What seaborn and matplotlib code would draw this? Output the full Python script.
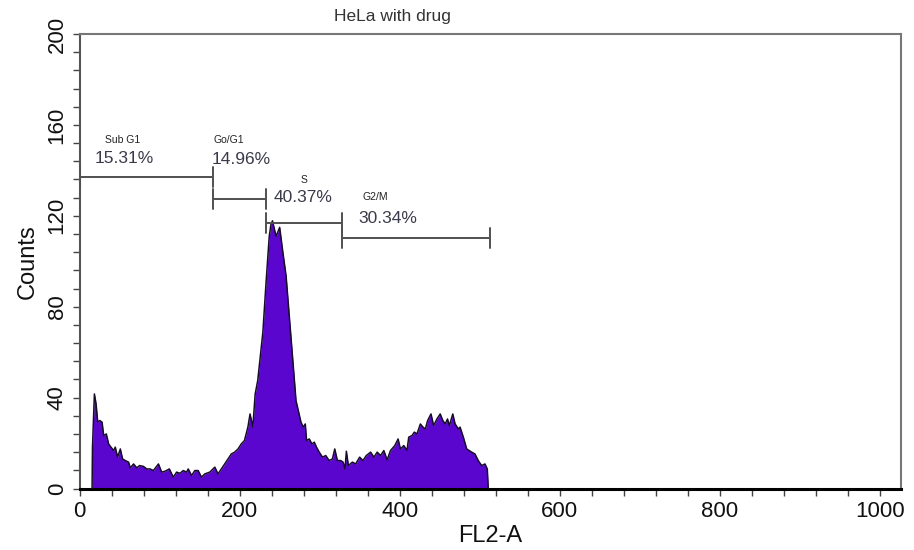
import matplotlib
matplotlib.use("Agg")
import matplotlib.pyplot as plt
from matplotlib.ticker import MultipleLocator
import numpy as np
import pandas as pd
import seaborn as sns

# DNA content histogram (FL2-A channel vs. event counts)
channel = [15.7, 16.2, 18.6, 20.7, 22.8, 25.3, 28.2, 30.2, 33.5, 36.4, 39.3, 42.7, 44.7,
           47.6, 51.0, 53.8, 57.2, 61.3, 63.4, 67.5, 71.6, 75.0, 80.0, 84.0, 88.2, 92.3,
           98.6, 102.7, 106.8, 112.2, 117.2, 121.3, 125.5, 129.6, 133.7, 135.8, 140.0,
           144.0, 148.2, 152.3, 156.5, 162.7, 169.0, 173.0, 177.2, 181.4, 185.5, 189.6,
           193.8, 198.0, 202.0, 206.0, 210.3, 213.0, 216.5, 219.4, 222.6, 225.0, 229.0,
           233.0, 237.0, 239.0, 241.0, 245.5, 250.0, 254.0, 258.0, 262.0, 266.0, 270.4,
           276.6, 279.5, 282.0, 283.6, 287.0, 290.3, 293.2, 296.0, 299.4, 303.5, 307.6,
           311.8, 315.9, 318.8, 322.1, 326.3, 329.2, 331.6, 333.3, 335.8, 340.8, 344.9,
           349.9, 354.0, 358.2, 363.6, 367.7, 371.8, 376.0, 380.1, 384.2, 388.4, 393.8,
           397.9, 400.8, 405.0, 409.0, 411.2, 415.3, 418.2, 421.5, 425.7, 429.0, 431.9,
           434.8, 439.0, 442.3, 446.4, 450.5, 453.8, 456.7, 459.6, 462.0, 466.2, 469.1,
           473.2, 475.3, 479.4, 483.6, 489.8, 493.9, 498.0, 502.2, 506.4, 509.3, 510.5]
counts = [0, 18, 41.6, 37.2, 29.2, 29.9, 29.2, 23.3, 24, 19.6, 18.2, 16.7, 18.2,
          13.8, 17.4, 13, 12.3, 11.6, 9.1, 10.8, 9.1, 10.1, 9.7, 8.6, 8.6, 7.9,
          10.8, 7.2, 7.6, 8.6, 5, 7.2, 6.7, 7.9, 7.2, 8.6, 5.7,
          7.9, 7.9, 5, 6.4, 7.2, 9.4, 6.4, 8.6, 10.8, 13, 15.2,
          16, 17.4, 19.6, 21.1, 27, 32.8, 27, 41.6, 47.5, 55.5, 68.7,
          90.7, 111, 116, 117.8, 111, 114.9, 103.9, 93.6, 76, 58.5, 38.7,
          29.2, 27, 28.4, 21.1, 21.8, 19.6, 20.4, 18.2, 16, 13.8, 14.5,
          12.3, 13, 17.4, 12.3, 12.3, 11.6, 8.6, 16.4, 10.1, 11.6, 10.8,
          13.8, 12.3, 14.5, 16, 13.8, 16, 14.5, 16.7, 12.6, 16.7, 18.9,
          21.8, 17.4, 18.9, 16.7, 22.6, 23.3, 24.8, 24, 28.4, 27, 26.2,
          29.9, 32.8, 27.7, 30.6, 32.8, 29.9, 28.4, 30.6, 27.7, 32.8, 28.4,
          26.2, 27, 22.6, 17.4, 16, 15.2, 12.3, 10.1, 10.8, 8.6, 0]

# Cell-cycle gates: name, percentage, marker range and marker height
gate_names = ["Sub G1", "Go/G1", "S", "G2/M"]
gate_pcts = ["15.31%", "14.96%", "40.37%", "30.34%"]
gate_start = [0.6, 167, 233, 328]
gate_end = [167, 233, 328, 513]
gate_level = [137.1, 127.4, 117.0, 110.3]

df = pd.DataFrame({"FL2-A": channel, "Counts": counts})

sns.set_style("ticks")
plt.rcParams["font.family"] = ["Liberation Sans", "DejaVu Sans"]

fig = plt.figure(figsize=(9.14, 5.5), dpi=100)
ax = fig.add_axes([79.5 / 914, 1 - 488.5 / 550, (901 - 79.5) / 914, (488.5 - 34) / 550])

fill_color = "#5a06cf"
ax.fill_between(df["FL2-A"], 0, df["Counts"], color=fill_color, linewidth=0, zorder=2)
sns.lineplot(data=df, x="FL2-A", y="Counts", color="#160c28", linewidth=1.1,
             ax=ax, zorder=3, sort=False)

# gate markers
gate_grey = "#505050"
half = 4.4
for name, pct, x0, x1, lvl in zip(gate_names, gate_pcts, gate_start, gate_end, gate_level):
    ax.plot([x0, x1], [lvl, lvl], color=gate_grey, lw=1.4, zorder=4, solid_capstyle="butt")
    ax.plot([x0, x0], [lvl - half, lvl + half], color=gate_grey, lw=1.4, zorder=4)
    ax.plot([x1, x1], [lvl - half, lvl + half], color=gate_grey, lw=1.4, zorder=4)

label_pos = {"Sub G1": (32, 153.4, 19.4, 145.0),
             "Go/G1": (167, 153.4, 165.6, 144.6),
             "S": (275.6, 135.8, 242, 127.9),
             "G2/M": (354, 128.4, 348, 119.0)}
for name, pct in zip(gate_names, gate_pcts):
    nx, ny, px, py = label_pos[name]
    ax.text(nx, ny, name, fontsize=7.5, color="#222222", ha="left", va="center")
    ax.text(px, py, pct, fontsize=12.5, color="#3a3a4a", ha="left", va="center")

ax.set_xlim(0, 1026)
ax.set_ylim(0, 200)
ax.xaxis.set_major_locator(MultipleLocator(200))
ax.xaxis.set_minor_locator(MultipleLocator(40))
ax.yaxis.set_major_locator(MultipleLocator(40))
ax.yaxis.set_minor_locator(MultipleLocator(8))
ax.tick_params(axis="both", which="both", direction="out", length=5, width=1,
               color="#444444", labelsize=16, labelcolor="#111111")
ax.tick_params(axis="x", which="major", pad=4)
for lbl in ax.get_yticklabels():
    lbl.set_rotation(90)
    lbl.set_va("center")

for side in ["top", "right", "left"]:
    ax.spines[side].set_visible(True)
    ax.spines[side].set_color("#777777")
    ax.spines[side].set_linewidth(1.5)
ax.spines["left"].set_color("#555555")
ax.spines["bottom"].set_color("#000000")
ax.spines["bottom"].set_linewidth(2.2)

ax.set_xlabel("FL2-A", fontsize=17, labelpad=2, color="#111111")
ax.set_ylabel("Counts", fontsize=17, labelpad=6, color="#111111")

fig.text(392 / 914, 1 - 16 / 550, "HeLa with drug", fontsize=12.5, color="#333333",
         ha="center", va="center")

fig.savefig("out.png", dpi=100)
